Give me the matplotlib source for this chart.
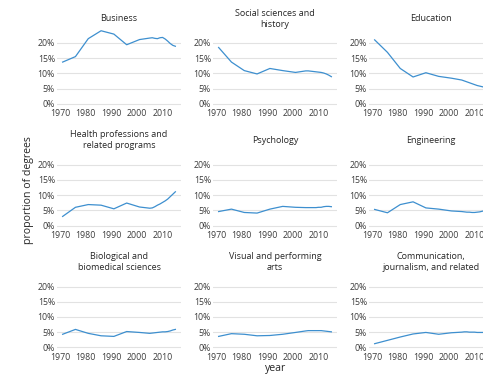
import matplotlib
matplotlib.use("Agg")
import matplotlib.pyplot as plt
from matplotlib.ticker import FuncFormatter
from matplotlib.transforms import ScaledTranslation

plt.rcParams["font.family"] = ["Open Sans", "DejaVu Sans"]

years = [1971, 1976, 1981, 1986, 1991, 1996, 2001, 2005, 2006, 2007,
         2008, 2009, 2010, 2011, 2012, 2013, 2014, 2015]

business = [13.7, 15.5, 21.4, 24.0, 22.9, 19.4, 21.1, 21.6, 21.7, 21.5,
            21.4, 21.7, 21.8, 21.3, 20.6, 19.8, 19.2, 18.9]
social_sciences = [18.5, 13.7, 10.9, 9.8, 11.6, 10.9, 10.3, 10.8, 10.8, 10.7,
                   10.6, 10.5, 10.4, 10.3, 10.1, 9.8, 9.4, 8.9]
education = [21.0, 16.9, 11.6, 8.8, 10.2, 9.0, 8.4, 7.8, 7.5, 7.2,
             6.9, 6.6, 6.3, 6.0, 5.8, 5.6, 5.4, 5.2]
health = [3.0, 6.0, 6.9, 6.7, 5.5, 7.4, 6.1, 5.7, 5.8, 6.2,
          6.7, 7.1, 7.6, 8.1, 8.7, 9.5, 10.3, 11.1]
psychology = [4.6, 5.4, 4.3, 4.1, 5.4, 6.3, 6.0, 5.9, 5.9, 5.9,
              5.9, 5.9, 6.0, 6.0, 6.2, 6.3, 6.3, 6.2]
engineering = [5.3, 4.2, 6.9, 7.8, 5.8, 5.4, 4.8, 4.6, 4.5, 4.4,
               4.4, 4.3, 4.3, 4.4, 4.5, 4.7, 4.9, 5.1]
biology = [4.3, 5.9, 4.6, 3.8, 3.6, 5.2, 4.9, 4.6, 4.7, 4.8,
           4.9, 5.0, 5.1, 5.1, 5.2, 5.4, 5.7, 5.9]
arts = [3.6, 4.5, 4.3, 3.8, 3.9, 4.3, 4.9, 5.4, 5.5, 5.5,
        5.5, 5.5, 5.5, 5.5, 5.4, 5.3, 5.2, 5.1]
communication = [1.2, 2.3, 3.4, 4.4, 4.9, 4.3, 4.8, 5.0, 5.1, 5.1,
                 5.0, 5.0, 5.0, 4.9, 4.9, 4.9, 4.9, 5.0]

fields = [
    "Business",
    "Social sciences and\nhistory",
    "Education",
    "Health professions and\nrelated programs",
    "Psychology",
    "Engineering",
    "Biological and\nbiomedical sciences",
    "Visual and performing\narts",
    "Communication,\njournalism, and related",
]
series = [business, social_sciences, education, health, psychology,
          engineering, biology, arts, communication]

x_ticks = [1970, 1980, 1990, 2000, 2010]
y_ticks = [0, 5, 10, 15, 20]

W, H = 483, 374
fig = plt.figure(figsize=(W / 100, H / 100), dpi=100)

line_color = "#3d8fcf"
grid_color = "#e2e2e2"
tick_color = "#3c3c3c"
title_color = "#262626"

col_left = [57, 213, 369]
panel_w = 124
row_bottom = [107.4, 229.2, 351.0]
panel_h = 80.3

pct = FuncFormatter(lambda v, _: f"{v:.0f}%")

for i, (name, vals) in enumerate(zip(fields, series)):
    r, c = divmod(i, 3)
    left = col_left[c] / W
    bottom = 1 - row_bottom[r] / H
    ax = fig.add_axes([left, bottom, panel_w / W, panel_h / H])
    ax.plot(years, vals, color=line_color, lw=0.9, solid_joinstyle="round")
    ax.set_xlim(1968.8, 2017.2)
    ax.set_ylim(-1.2, 25.2)
    ax.set_xticks(x_ticks)
    ax.set_yticks(y_ticks)
    ax.yaxis.set_major_formatter(pct)
    ax.grid(axis="y", color=grid_color, lw=0.8)
    ax.set_axisbelow(True)
    for s in ax.spines.values():
        s.set_visible(False)
    ax.tick_params(axis="both", length=0, labelsize=6.3, colors=tick_color)
    ax.tick_params(axis="x", pad=1.5)
    ax.tick_params(axis="y", pad=1.5)
    # facet label sits a few pixels above the panel
    ax.text(0.5, 1.0, name, ha="center", va="center", fontsize=6.5,
            color=title_color, linespacing=1.3,
            transform=ax.transAxes + ScaledTranslation(0, 8.5 / 100, fig.dpi_scale_trans))

fig.text(276 / W, 1 - 369 / H, "year", ha="center", va="center",
         fontsize=7.6, color=title_color)
fig.text(29 / W, 1 - 190 / H, "proportion of degrees", ha="center", va="center",
         rotation=90, fontsize=7.6, color=title_color)

fig.savefig("out.png", dpi=100)
